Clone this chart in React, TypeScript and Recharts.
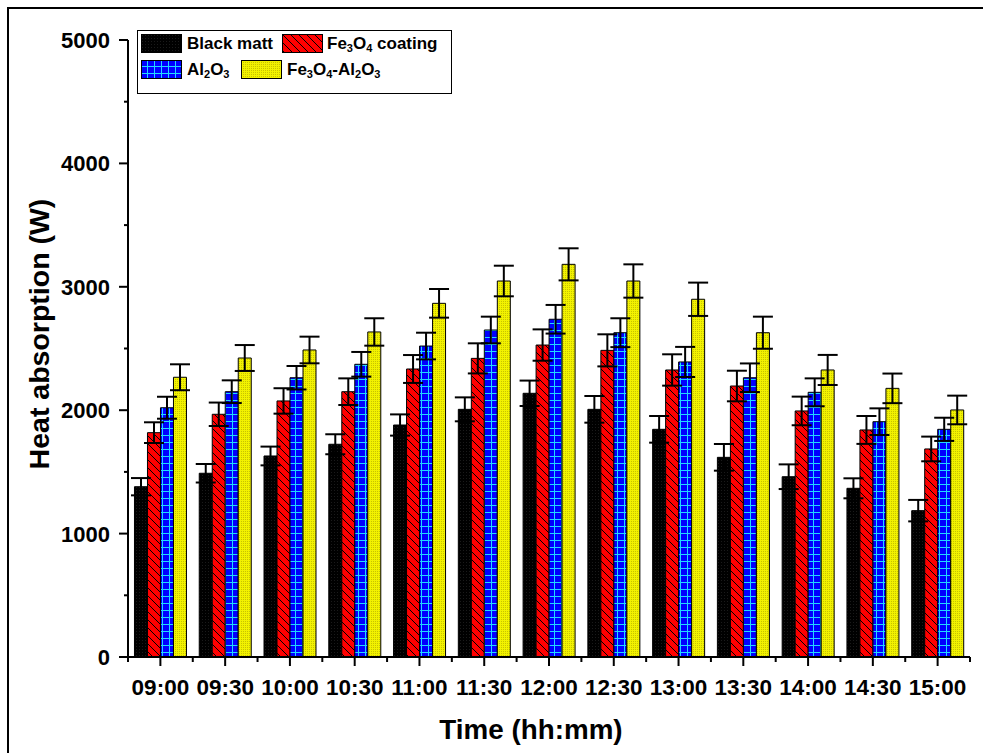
import React from 'react';
import { BarChart, Bar, XAxis, YAxis, ErrorBar, Label } from 'recharts';

const times = ['09:00', '09:30', '10:00', '10:30', '11:00', '11:30', '12:00', '12:30', '13:00', '13:30', '14:00', '14:30', '15:00'];

const blackMatt = [1380, 1489, 1629, 1724, 1880, 2007, 2137, 2007, 1845, 1618, 1461, 1367, 1186];
const fe3o4 = [1818, 1967, 2075, 2150, 2334, 2420, 2528, 2485, 2326, 2196, 1994, 1840, 1686];
const al2o3 = [2020, 2150, 2263, 2372, 2520, 2650, 2737, 2628, 2391, 2263, 2145, 1907, 1845];
const fe3o4Al2o3 = [2267, 2423, 2488, 2634, 2866, 3047, 3182, 3047, 2899, 2628, 2326, 2177, 2002];

const blackErr = [70, 75, 76, 81, 86, 97, 103, 108, 108, 108, 100, 81, 87];
const fe3o4Err = [84, 95, 103, 108, 113, 122, 127, 130, 127, 124, 116, 113, 100];
const al2o3Err = [89, 92, 95, 100, 108, 108, 116, 117, 122, 116, 113, 108, 94];
const fe3o4Al2o3Err = [105, 105, 108, 111, 116, 124, 130, 135, 135, 130, 122, 120, 116];

const yTicks = [0, 500, 1000, 1500, 2000, 2500, 3000, 3500, 4000, 4500, 5000];

const data = times.map((t, i) => ({
  time: t,
  black: blackMatt[i],
  blackErr: blackErr[i],
  fe: fe3o4[i],
  feErr: fe3o4Err[i],
  al: al2o3[i],
  alErr: al2o3Err[i],
  feal: fe3o4Al2o3[i],
  fealErr: fe3o4Al2o3Err[i],
}));

const FONT = "'Liberation Sans', Arial, sans-serif";
const W = 974;
const H = 744;
const PLOT_LEFT = 119;
const PLOT_TOP = 31;
const PLOT_RIGHT = 961;
const PLOT_BOTTOM = 648;

// patterns for bar fills
const Patterns = () => (
  <svg width={0} height={0} style={{ position: 'absolute' }}>
    <defs>
      <pattern id="pBlack" patternUnits="userSpaceOnUse" width={3} height={3}>
        <rect width={3} height={3} fill="#000" />
        <rect x={1} y={1} width={1} height={1} fill="#1a1a1a" />
      </pattern>
      <pattern id="pRed" patternUnits="userSpaceOnUse" width={8} height={8}>
        <rect width={8} height={8} fill="#ff0000" />
        <path d="M-1,-1 L9,9 M-1,7 L1,9 M7,-1 L9,1" stroke="#000" strokeWidth={1} />
      </pattern>
      <pattern id="pBlue" patternUnits="userSpaceOnUse" width={7} height={7}>
        <rect width={7} height={7} fill="#0000ff" />
        <path d="M0,6.5 L7,6.5 M6.5,0 L6.5,7" stroke="#22d8ff" strokeWidth={1} />
      </pattern>
      <pattern id="pYellow" patternUnits="userSpaceOnUse" width={2} height={2}>
        <rect width={2} height={2} fill="#f2f200" />
        <rect x={0} y={0} width={1} height={1} fill="#c8c400" />
      </pattern>
    </defs>
  </svg>
);

const YTick = (props: any) => {
  const { y, payload } = props;
  const v = payload.value;
  const major = v % 1000 === 0;
  return (
    <g>
      <line x1={PLOT_LEFT - (major ? 9 : 4)} x2={PLOT_LEFT} y1={y} y2={y} stroke="#000" strokeWidth={2} />
      {major && (
        <text x={PLOT_LEFT - 18} y={y} dy={8} textAnchor="end" fontFamily={FONT} fontWeight="bold" fontSize={22} fill="#000">
          {v}
        </text>
      )}
    </g>
  );
};

const XTick = (props: any) => {
  const { x, payload, index } = props;
  const half = payload.offset || 32.4;
  const last = index === times.length - 1;
  return (
    <g>
      <line x1={x} x2={x} y1={PLOT_BOTTOM} y2={PLOT_BOTTOM + 9} stroke="#000" strokeWidth={2} />
      <line x1={x - half} x2={x - half} y1={PLOT_BOTTOM} y2={PLOT_BOTTOM + 5} stroke="#000" strokeWidth={2} />
      {last && <line x1={x + half} x2={x + half} y1={PLOT_BOTTOM} y2={PLOT_BOTTOM + 5} stroke="#000" strokeWidth={2} />}
      <text x={x} y={PLOT_BOTTOM + 38} textAnchor="middle" fontFamily={FONT} fontWeight="bold" fontSize={22.5} fill="#000">
        {payload.value}
      </text>
    </g>
  );
};

const Swatch = ({ fill, left, top }: { fill: string; left: number; top: number }) => (
  <svg width={41} height={19} style={{ position: 'absolute', left, top }}>
    <rect x={0.5} y={0.5} width={40} height={18} fill={fill} stroke="#000" strokeWidth={1} />
  </svg>
);

const txt: React.CSSProperties = {
  position: 'absolute',
  fontFamily: FONT,
  fontWeight: 'bold',
  fontSize: 17,
  lineHeight: '19px',
  whiteSpace: 'nowrap',
  color: '#000',
};
const sub: React.CSSProperties = { fontSize: 11, verticalAlign: '-3px', lineHeight: 0 };

const ChartLegend = () => (
  <div style={{ position: 'absolute', left: 128, top: 21, width: 313, height: 62, border: '1px solid #000', background: '#fff' }}>
    <Swatch fill="url(#pBlack)" left={3} top={3} />
    <div style={{ ...txt, left: 49, top: 3 }}>Black matt</div>
    <Swatch fill="url(#pRed)" left={144} top={3} />
    <div style={{ ...txt, left: 189, top: 3 }}>
      Fe<span style={sub}>3</span>O<span style={sub}>4</span> coating
    </div>
    <Swatch fill="url(#pBlue)" left={3} top={29} />
    <div style={{ ...txt, left: 49, top: 29 }}>
      Al<span style={sub}>2</span>O<span style={sub}>3</span>
    </div>
    <Swatch fill="url(#pYellow)" left={103} top={29} />
    <div style={{ ...txt, left: 149, top: 29 }}>
      Fe<span style={sub}>3</span>O<span style={sub}>4</span>-Al<span style={sub}>2</span>O<span style={sub}>3</span>
    </div>
  </div>
);

const YTitle = () => (
  <g>
    <line x1={PLOT_LEFT} x2={PLOT_LEFT} y1={PLOT_TOP} y2={PLOT_BOTTOM + 1} stroke="#000" strokeWidth={2} />
    <text transform="translate(40, 325) rotate(-90)" textAnchor="middle" fontFamily={FONT} fontWeight="bold" fontSize={28.5} fill="#000">
      Heat absorption (W)
    </text>
  </g>
);

const XTitle = () => (
  <g>
    <line x1={PLOT_LEFT - 1} x2={PLOT_RIGHT} y1={PLOT_BOTTOM} y2={PLOT_BOTTOM} stroke="#000" strokeWidth={2} />
    <text x={522} y={730} textAnchor="middle" fontFamily={FONT} fontWeight="bold" fontSize={27.8} fill="#000">
      Time (hh:mm)
    </text>
  </g>
);

export default function App() {
  return (
    <div
      style={{
        position: 'absolute',
        left: 7,
        top: 7,
        width: W,
        height: H,
        borderLeft: '2px solid #000',
        borderTop: '2px solid #000',
        background: '#fff',
        overflow: 'hidden',
      }}
    >
      <Patterns />
      <BarChart
        width={W}
        height={H}
        data={data}
        margin={{ top: PLOT_TOP, right: W - PLOT_RIGHT, left: 0, bottom: 0 }}
        barCategoryGap="10%"
        barGap={0}
      >
        <XAxis dataKey="time" height={H - PLOT_BOTTOM} interval={0} tick={<XTick />} tickLine={false} axisLine={false}>
          <Label content={<XTitle />} />
        </XAxis>
        <YAxis
          width={PLOT_LEFT}
          domain={[0, 5000]}
          ticks={yTicks}
          interval={0}
          tick={<YTick />}
          tickLine={false}
          axisLine={false}
        >
          <Label content={<YTitle />} />
        </YAxis>
        <Bar dataKey="black" fill="url(#pBlack)" stroke="#000" strokeWidth={1} isAnimationActive={false}>
          <ErrorBar dataKey="blackErr" width={10} stroke="#000" strokeWidth={2} isAnimationActive={false} />
        </Bar>
        <Bar dataKey="fe" fill="url(#pRed)" stroke="#000" strokeWidth={1} isAnimationActive={false}>
          <ErrorBar dataKey="feErr" width={10} stroke="#000" strokeWidth={2} isAnimationActive={false} />
        </Bar>
        <Bar dataKey="al" fill="url(#pBlue)" stroke="#000" strokeWidth={1} isAnimationActive={false}>
          <ErrorBar dataKey="alErr" width={10} stroke="#000" strokeWidth={2} isAnimationActive={false} />
        </Bar>
        <Bar dataKey="feal" fill="url(#pYellow)" stroke="#000" strokeWidth={1} isAnimationActive={false}>
          <ErrorBar dataKey="fealErr" width={10} stroke="#000" strokeWidth={2} isAnimationActive={false} />
        </Bar>
      </BarChart>
      <ChartLegend />
    </div>
  );
}
